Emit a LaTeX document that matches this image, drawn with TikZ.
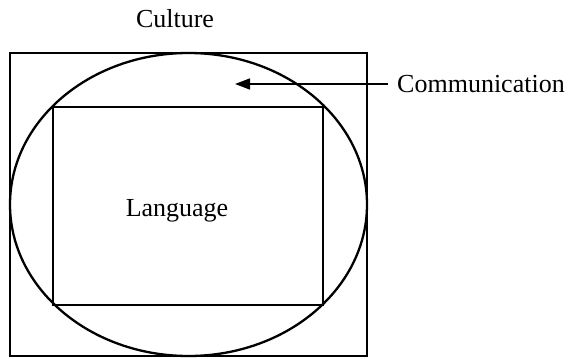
\documentclass[tikz,border=0pt]{standalone}
\usepackage{fontspec}
\setmainfont{Liberation Serif}
\usetikzlibrary{arrows.meta,shapes.geometric}
\begin{document}
\begin{tikzpicture}[x=1pt,y=-1pt,
  box/.style={draw, line width=1.9pt, inner sep=0pt, rectangle},
  lbl/.style={font=\fontsize{26}{30}\selectfont, inner sep=0pt}]
\useasboundingbox (0,0) rectangle (569,358);
\node[box, minimum width=357pt, minimum height=303pt] (outer) at (188.5,204.5) {};
\node[draw, ellipse, line width=2.3pt, minimum width=357pt, minimum height=303pt, inner sep=0pt] (ell) at (188.5,204.5) {};
\node[box, minimum width=270pt, minimum height=198pt] (inner) at (188,206) {};
\node[lbl] (culture) at (175,19) {Culture};
\node[lbl] (language) at (177,211) {Language};
\node[lbl, anchor=west] (comm) at (397,84) {Communication};
\coordinate (tip) at (235,84);
\draw[line width=1.6pt, -{Triangle[length=15pt,width=11pt]}] ([xshift=-9pt]comm.west) -- (tip);
\end{tikzpicture}
\end{document}
